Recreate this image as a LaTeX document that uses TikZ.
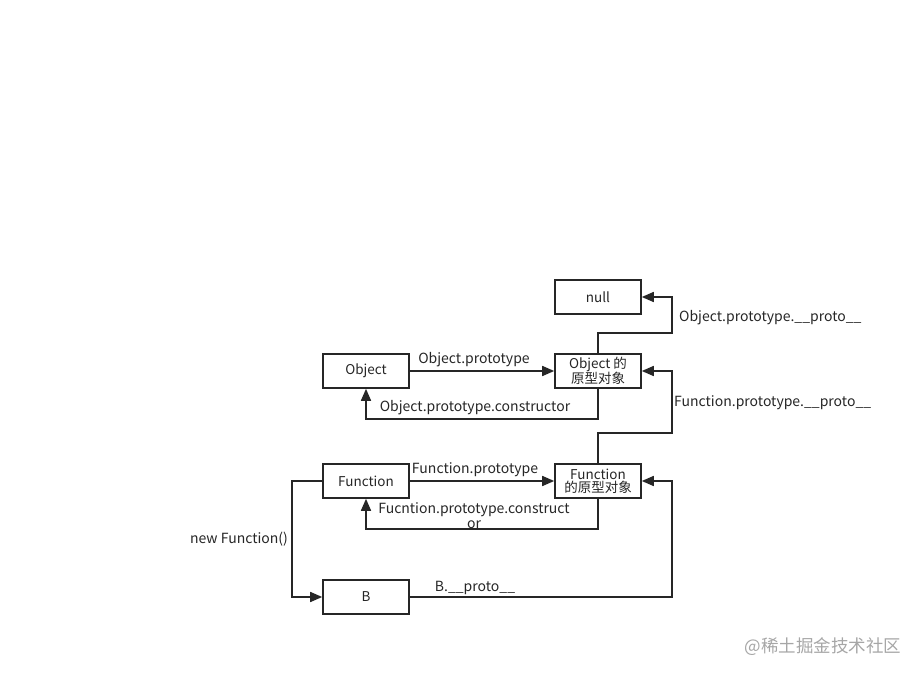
\documentclass[tikz,border=0pt]{standalone}
\usepackage{fontspec}
\setmainfont{Noto Sans CJK SC}
\usepackage{tikz}
\usetikzlibrary{arrows.meta,positioning,calc}

\begin{document}
\begin{tikzpicture}[x=1pt,y=-1pt,
  every node/.style={font=\fontsize{14}{16}\selectfont, text=black!85},
  objbox/.style={draw=black!85, line width=1.6pt, minimum width=86pt, minimum height=34pt, inner sep=0pt, align=center, font=\fontsize{13.5}{14}\selectfont},
  link/.style={draw=black!85, line width=1.6pt, -{Triangle[length=12pt,width=10pt]}},
  lbl/.style={inner sep=1pt}]
\useasboundingbox (0,0) rectangle (924,676);

% the boxes
\node[objbox] (null)   at (598,297) {null};
\node[objbox] (obj)    at (366,371) {Object};
\node[objbox] (oproto) at (598,371) {Object 的\\[-1pt]原型对象};
\node[objbox] (func)   at (366,481) {Function};
\node[objbox] (fproto) at (598,481) {Function\\[-1pt]的原型对象};
\node[objbox] (b)      at (366,597) {B};

% prototype links
\draw[link] (obj) -- (oproto);
\node[lbl] (lobjp) at (474,360) {Object.prototype};
\draw[link] (func) -- (fproto);
\node[lbl] (lfunp) at (475,470) {Function.prototype};

% constructor links
\draw[link] (oproto.south) -- ++(0,30) -| (obj.south);
\node[lbl] (lobjc) at (475,408) {Object.prototype.constructor};
\draw[link] (fproto.south) -- ++(0,30) -| (func.south);
\node[lbl, align=center, font=\fontsize{14}{15}\selectfont] (lfunc) at (474,516) {Fucntion.prototype.construct\\or};

% __proto__ chain
\draw[link] (oproto.north) -- ++(0,-20) -| ([xshift=30]null.east) -- (null.east);
\node[lbl, anchor=west] (lobjpp) at (678,318) {Object.prototype.\_\_proto\_\_};
\draw[link] (fproto.north) -- ++(0,-30) -| ([xshift=30]oproto.east) -- (oproto.east);
\node[lbl, anchor=west] (lfunpp) at (673,403) {Function.prototype.\_\_proto\_\_};
\draw[link] (b.east) -| ([xshift=30]fproto.east) -- (fproto.east);
\node[lbl] (lbp) at (475,588) {B.\_\_proto\_\_};

% new Function()
\draw[link] (func.west) -- ++(-30,0) |- (b.west);
\node[lbl] (lnew) at (239,539) {new Function()};

% watermark
\node[text=black!35, font=\fontsize{17.5}{18}\selectfont] (mark) at (823,647) {@稀土掘金技术社区};
\end{tikzpicture}
\end{document}
